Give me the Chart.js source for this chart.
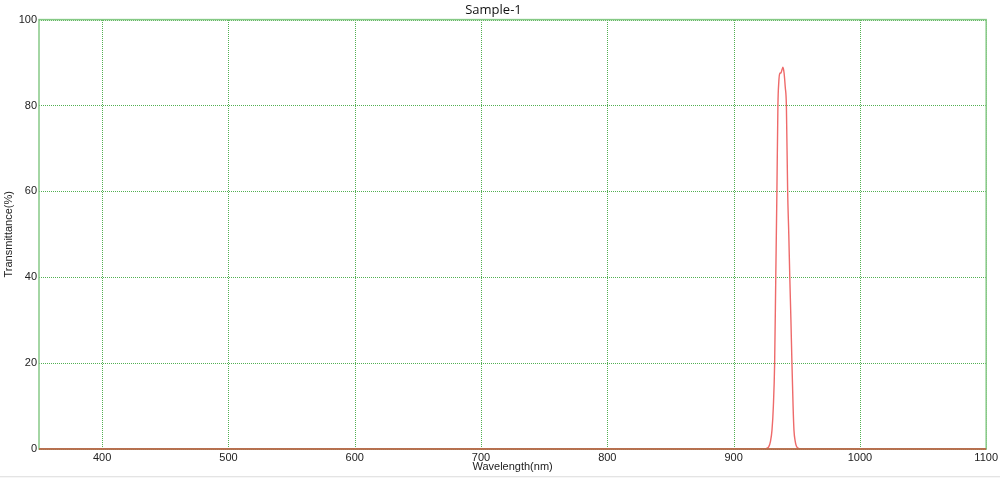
<!DOCTYPE html>
<html>
<head>
<meta charset="utf-8">
<script src="https://cdn.jsdelivr.net/npm/chart.js@4"></script>
<style>
    html, body { margin: 0; padding: 0; background: #fff; }
    #wrap { position: relative; width: 1000px; height: 478px; }
    #bar { position: absolute; left: 0; top: 476px; width: 1000px; height: 2px; border-top: 1px solid #e4e4e4; background: #f6f6f6; }
</style>
</head>
<body>
<div id="wrap">
    <canvas id="spectrum-chart" width="1000" height="478"></canvas>
    <div id="bar"></div>
</div>
<script>
// Sample-1 transmittance spectrum
const wavelengths = [350, 900, 922, 925.5, 927.8, 929.2, 930.4, 931.5, 932.5, 933.4, 934.3, 935.1, 935.8, 936.5, 937.5, 938.3,
    939.1, 940, 940.9, 941.8, 942.8, 943.7, 944.5, 945.4, 946.2, 947.1, 947.8, 948.8, 949.7, 951, 953, 1000, 1100];
const transmittance = [0, 0, 0, 0.1, 0.5, 1.8, 4.4, 10, 20, 40, 60, 80, 85.5, 87.4, 87.6, 88.3,
    88.9, 87.5, 84.3, 80, 60, 50, 40, 30, 20, 10, 4.4, 1.8, 0.7, 0.2, 0, 0, 0];

const xTicks = [400, 500, 600, 700, 800, 900, 1000, 1100];
const yTicks = [0, 20, 40, 60, 80, 100];

const gridGreen = "#52b052";
const frameGreen = "#86c986";

// dotted grid drawn by hand so horizontal and vertical lines look the same
const gridPlugin = {
    id: 'dotgrid',
    beforeDatasetsDraw(chart) {
        const a = chart.chartArea;
        const c = chart.ctx;
        const xs = chart.scales.x;
        const ys = chart.scales.y;
        c.save();
        c.fillStyle = gridGreen;
        xTicks.forEach(v => {
            const px = Math.round(xs.getPixelForValue(v));
            for (let py = Math.ceil(a.top); py < a.bottom; py += 2) c.fillRect(px, py, 1, 1);
        });
        yTicks.forEach(v => {
            const py = Math.round(ys.getPixelForValue(v));
            for (let px = Math.ceil(a.left); px < a.right; px += 2) c.fillRect(px, py, 1, 1);
        });
        c.restore();
    },
    afterDraw(chart) {
        const a = chart.chartArea;
        const c = chart.ctx;
        c.save();
        c.strokeStyle = frameGreen;
        c.lineWidth = 1.5;
        c.strokeRect(a.left, a.top, a.right - a.left, a.bottom - a.top);
        // the zero line of the data sits on the bottom axis
        c.strokeStyle = "#c0563c";
        c.lineWidth = 1.5;
        c.beginPath();
        c.moveTo(a.left, a.bottom);
        c.lineTo(a.right, a.bottom);
        c.stroke();
        c.restore();
    }
};

const points = wavelengths.map((w, i) => ({ x: w, y: transmittance[i] }));

const ctx = document.getElementById('spectrum-chart');

const chart = new Chart(ctx, {
    type: 'line',
    data: {
        datasets: [{
            data: points,
            borderColor: "#ee6a6a",
            borderWidth: 1.4,
            pointRadius: 0,
            cubicInterpolationMode: 'monotone',
            fill: false
        }]
    },
    options: {
        responsive: false,
        animation: false,
        layout: { padding: { left: 0, right: 13, top: 0, bottom: 0 } },
        scales: {
            x: {
                type: 'linear',
                min: 350,
                max: 1100,
                afterBuildTicks: (scale) => { scale.ticks = xTicks.map(v => ({ value: v })); },
                afterFit: (scale) => { scale.height = 29; },
                grid: { display: false, drawTicks: false },
                border: { display: false },
                ticks: {
                    padding: 2,
                    color: "#222",
                    callback: (v) => String(v),
                    font: { family: "Arial, 'Liberation Sans'", size: 11 }
                },
                title: {
                    display: true,
                    text: "Wavelength(nm)",
                    color: "#222",
                    padding: { top: 0, bottom: 4 },
                    font: { family: "Arial, 'Liberation Sans'", size: 11 }
                }
            },
            y: {
                min: 0,
                max: 100,
                afterBuildTicks: (scale) => { scale.ticks = yTicks.map(v => ({ value: v })); },
                afterFit: (scale) => { scale.width = 39; },
                grid: { display: false, drawTicks: false },
                border: { display: false },
                ticks: {
                    padding: 2,
                    color: "#222",
                    callback: (v) => String(v),
                    font: { family: "Arial, 'Liberation Sans'", size: 11 }
                },
                title: {
                    display: true,
                    text: "Transmittance(%)",
                    color: "#222",
                    padding: { top: 2, bottom: 0 },
                    font: { family: "Arial, 'Liberation Sans'", size: 11 }
                }
            }
        },
        plugins: {
            legend: { display: false },
            tooltip: { enabled: false },
            title: {
                display: true,
                text: "Sample-1",
                color: "#111",
                padding: { top: 2, bottom: 2 },
                font: { family: "'Open Sans'", size: 13, weight: '500' }
            }
        }
    },
    plugins: [gridPlugin]
});
</script>
</body>
</html>
